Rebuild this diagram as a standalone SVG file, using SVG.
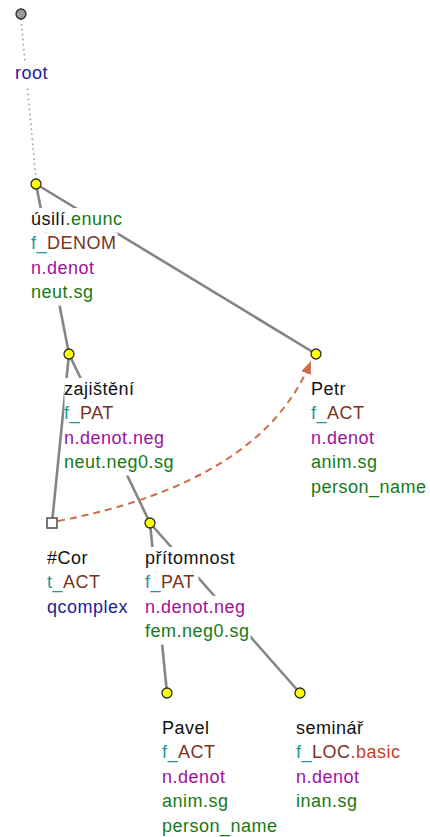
<svg xmlns="http://www.w3.org/2000/svg" width="430" height="837" viewBox="0 0 430 837">
<defs>
<style>
text{font-family:"Liberation Sans",Arial,sans-serif;font-size:18px;letter-spacing:0.5px;fill:#111}
.bg{fill:#fff}
.edge{stroke:#858585;stroke-width:2.6;fill:none}
.dot{stroke:#9a9a9a;stroke-width:1.6;stroke-dasharray:1.5 3.5;fill:none}
.nd{fill:#ffff00;stroke:#2a2a2a;stroke-width:1.3}
.t{fill:#209a9a}.fn{fill:#7a3322}.red{fill:#c0402a}.mg{fill:#a0109f}.gr{fill:#167a16}.bl{fill:#20209a}
</style>
<marker id="ah" markerUnits="userSpaceOnUse" markerWidth="14" markerHeight="11" refX="13" refY="5" orient="auto"><path d="M0,0 L13,5 L0,10 z" fill="#cf6a45"/></marker>
</defs>
<g id="connectors">
<line class="dot" x1="21" y1="19" x2="36" y2="179"/>
<line class="edge" x1="36" y1="184" x2="316" y2="354"/>
<line class="edge" x1="36" y1="184" x2="69" y2="354"/>
<line class="edge" x1="69" y1="354" x2="52" y2="523"/>
<line class="edge" x1="69" y1="354" x2="150" y2="523"/>
<line class="edge" x1="150" y1="523" x2="167" y2="693"/>
<line class="edge" x1="150" y1="523" x2="300" y2="693"/>
<path d="M58,521 Q262,482 311,361" fill="none" stroke="#cf6a45" stroke-width="2" stroke-dasharray="7 5" marker-end="url(#ah)"/>
</g>
<g id="root">
<circle cx="21" cy="14" r="5" fill="#9a9a9a" stroke="#2a2a2a" stroke-width="1.3"/>
<rect class="bg" x="16" y="62" width="34" height="24"/>
<text x="15" y="79" class="bl">root</text>
</g>
<g id="usili">
<circle class="nd" cx="36" cy="184" r="5"/>
<rect class="bg" x="31.5" y="208" width="92" height="24.4"/>
<rect class="bg" x="31.5" y="232.4" width="86" height="24.4"/>
<rect class="bg" x="31.5" y="256.8" width="64" height="24.4"/>
<rect class="bg" x="31.5" y="281.2" width="63" height="24.4"/>
<text x="31" y="225">úsilí<tspan class="gr">.enunc</tspan></text>
<text x="31" y="249.4"><tspan class="t">f_</tspan><tspan class="fn">DENOM</tspan></text>
<text x="31" y="273.8" class="mg">n.denot</text>
<text x="31" y="298.2" class="gr">neut.sg</text>
</g>
<g id="zajisteni">
<circle class="nd" cx="69" cy="354" r="5"/>
<rect class="bg" x="64.5" y="378" width="71" height="24.4"/>
<rect class="bg" x="64.5" y="402.4" width="53" height="24.4"/>
<rect class="bg" x="64.5" y="426.8" width="101" height="24.4"/>
<rect class="bg" x="64.5" y="451.2" width="110.5" height="24.4"/>
<text x="64" y="395">zajištění</text>
<text x="64" y="419.4"><tspan class="t">f_</tspan><tspan class="fn">PAT</tspan></text>
<text x="64" y="443.8" class="mg">n.denot.neg</text>
<text x="64" y="468.2" class="gr">neut.neg0.sg</text>
</g>
<g id="petr">
<circle class="nd" cx="316" cy="354" r="5"/>
<rect class="bg" x="311" y="378" width="36" height="24.4"/>
<rect class="bg" x="311" y="402.4" width="54" height="24.4"/>
<rect class="bg" x="311" y="426.8" width="64" height="24.4"/>
<rect class="bg" x="311" y="451.2" width="67" height="24.4"/>
<rect class="bg" x="311" y="475.6" width="116" height="24.4"/>
<text x="311" y="395">Petr</text>
<text x="311" y="419.4"><tspan class="t">f_</tspan><tspan class="fn">ACT</tspan></text>
<text x="311" y="443.8" class="mg">n.denot</text>
<text x="311" y="468.2" class="gr">anim.sg</text>
<text x="311" y="492.6" class="gr">person_name</text>
</g>
<g id="cor">
<rect x="47" y="518" width="10" height="10" fill="#fff" stroke="#555" stroke-width="1.6"/>
<rect class="bg" x="47.5" y="547" width="42" height="24.4"/>
<rect class="bg" x="47.5" y="571.4" width="54" height="24.4"/>
<rect class="bg" x="47.5" y="595.8" width="82" height="24.4"/>
<text x="47" y="564">#Cor</text>
<text x="47" y="588.4"><tspan class="t">t_</tspan><tspan class="fn">ACT</tspan></text>
<text x="47" y="612.8" class="bl">qcomplex</text>
</g>
<g id="pritomnost">
<circle class="nd" cx="150" cy="523" r="5"/>
<rect class="bg" x="145.5" y="547" width="91" height="24.4"/>
<rect class="bg" x="145.5" y="571.4" width="53" height="24.4"/>
<rect class="bg" x="145.5" y="595.8" width="101" height="24.4"/>
<rect class="bg" x="145.5" y="620.2" width="105" height="24.4"/>
<text x="145" y="564">přítomnost</text>
<text x="145" y="588.4"><tspan class="t">f_</tspan><tspan class="fn">PAT</tspan></text>
<text x="145" y="612.8" class="mg">n.denot.neg</text>
<text x="145" y="637.2" class="gr">fem.neg0.sg</text>
</g>
<g id="pavel">
<circle class="nd" cx="167" cy="693" r="5"/>
<text x="162" y="734">Pavel</text>
<text x="162" y="758.4"><tspan class="t">f_</tspan><tspan class="fn">ACT</tspan></text>
<text x="162" y="782.8" class="mg">n.denot</text>
<text x="162" y="807.2" class="gr">anim.sg</text>
<text x="162" y="831.6" class="gr">person_name</text>
</g>
<g id="seminar">
<circle class="nd" cx="300" cy="693" r="5"/>
<text x="296" y="734">seminář</text>
<text x="296" y="758.4"><tspan class="t">f_</tspan><tspan class="fn">LOC</tspan><tspan class="red">.basic</tspan></text>
<text x="296" y="782.8" class="mg">n.denot</text>
<text x="296" y="807.2" class="gr">inan.sg</text>
</g>
</svg>
